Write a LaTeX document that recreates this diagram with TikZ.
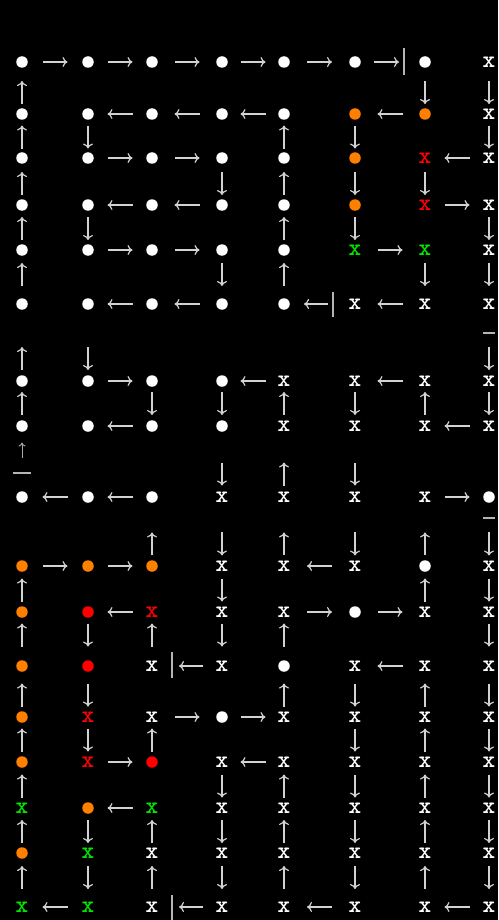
\documentclass[tikz,border=0pt]{standalone}
\usetikzlibrary{arrows.meta,calc}
\definecolor{linkgray}{HTML}{D2D2D2}
\definecolor{wallgray}{HTML}{B4B4B4}
\definecolor{dotorange}{HTML}{FF8000}
\definecolor{dotred}{HTML}{FF0000}
\definecolor{xgreen}{HTML}{00E600}
\begin{document}
\begin{tikzpicture}[x=1pt,y=-1pt,
  dotbase/.style={circle,inner sep=0pt,minimum size=11.5pt},
  kw/.style={dotbase,fill=white,node contents={}},
  ko/.style={dotbase,fill=dotorange,node contents={}},
  kr/.style={dotbase,fill=dotred,node contents={}},
  xbase/.style={inner sep=0pt,font=\ttfamily\bfseries\fontsize{24}{24}\selectfont},
  kX/.style={xbase,text=white,node contents={x}},
  kR/.style={xbase,text=dotred,node contents={x}},
  kG/.style={xbase,text=xgreen,node contents={x}},
  link/.style={draw=linkgray,line width=1.2pt,-{Computer Modern Rightarrow[length=5pt,width=10pt]}},
  smalllink/.style={draw=linkgray!80!black,line width=1pt,-{Computer Modern Rightarrow[length=4pt,width=7pt]}},
  seg/.style 2 args={to path={($(\tikztostart)!#1!(\tikztotarget)!#2!(\tikztostart)$) -- ($(\tikztostart)!#1!(\tikztotarget)!#2!(\tikztotarget)$)}},
  wall/.style={draw=wallgray,line width=1.2pt}
]
\fill[black] (0,0) rectangle (498,920);
\useasboundingbox (0,0) rectangle (498,920);
% grid nodes
\foreach \r/\y/\types in {
 0/62/{kw,kw,kw,kw,kw,kw,kw,kX},
 1/114/{kw,kw,kw,kw,kw,ko,ko,kX},
 2/158/{kw,kw,kw,kw,kw,ko,kR,kX},
 3/205/{kw,kw,kw,kw,kw,ko,kR,kX},
 4/250/{kw,kw,kw,kw,kw,kG,kG,kX},
 5/304/{kw,kw,kw,kw,kw,kX,kX,kX},
 6/381/{kw,kw,kw,kw,kX,kX,kX,kX},
 7/426/{kw,kw,kw,kw,kX,kX,kX,kX},
 8/497/{kw,kw,kw,kX,kX,kX,kX,kw},
 9/566/{ko,ko,ko,kX,kX,kX,kw,kX},
 10/612/{ko,kr,kR,kX,kX,kw,kX,kX},
 11/666/{ko,kr,kX,kX,kw,kX,kX,kX},
 12/717/{ko,kR,kX,kw,kX,kX,kX,kX},
 13/762/{ko,kR,kr,kX,kX,kX,kX,kX},
 14/808/{kG,ko,kG,kX,kX,kX,kX,kX},
 15/853/{ko,kG,kX,kX,kX,kX,kX,kX},
 16/907/{kG,kG,kX,kX,kX,kX,kX,kX}}{
  \foreach \k [count=\c from 0] in \types {
    \pgfmathsetmacro\cx{{22,88,152,222,284,355,425,489}[\c]}
    \node (n-\r-\c) at (\cx,\y) [\k];
  }
}
% horizontal arrows (left column / direction)
\foreach \r/\items in {
 0/{0/r,1/r,2/r,3/r,4/r},
 1/{1/l,2/l,3/l,5/l},
 2/{1/r,2/r,6/l},
 3/{1/l,2/l,6/r},
 4/{1/r,2/r,5/r},
 5/{1/l,2/l,5/l},
 6/{1/r,3/l,5/l},
 7/{1/l,6/l},
 8/{0/l,1/l,6/r},
 9/{0/r,1/r,4/l},
 10/{1/l,4/r,5/r},
 11/{5/l},
 12/{2/r,3/r},
 13/{1/r,3/l},
 14/{1/l},
 16/{0/l,4/l,6/l}}{
  \foreach \a/\d in \items {
    \pgfmathtruncatemacro\b{\a+1}
    \if\d r
      \draw[link,seg={0.5}{12.5pt}] (n-\r-\a) to (n-\r-\b);
    \else
      \draw[link,seg={0.5}{12.5pt}] (n-\r-\b) to (n-\r-\a);
    \fi
  }
}
% vertical arrows (top row / position / column and direction)
\foreach \t/\f/\items in {
 0/0.587/{0/u,6/d,7/d},
 1/0.523/{0/u,1/d,4/u,5/d,7/d},
 2/0.543/{0/u,3/d,4/u,5/d,6/d},
 3/0.522/{0/u,1/d,4/u,5/d,7/d},
 4/0.454/{0/u,3/d,4/u,6/d,7/d},
 5/0.708/{0/u,1/d,7/d},
 6/0.5/{0/u,2/d,3/d,4/u,5/d,6/u,7/d},
 7/0.676/{3/d,4/u,5/d},
 8/0.681/{2/u,3/d,4/u,5/d,6/u,7/d},
 9/0.522/{0/u,3/d,6/u,7/d},
 10/0.426/{0/u,1/d,2/u,3/d,4/u,7/d},
 11/0.569/{0/u,1/d,4/u,5/d,6/u,7/d},
 12/0.511/{0/u,1/d,2/u,5/d,6/u,7/d},
 13/0.522/{0/u,3/d,4/u,5/d,6/u,7/d},
 14/0.522/{0/u,1/d,2/u,3/d,4/u,5/d,6/u,7/d},
 15/0.454/{0/u,1/d,2/u,3/d,4/u,5/d,6/u,7/d}}{
  \pgfmathtruncatemacro\b{\t+1}
  \pgfmathsetmacro\g{1-\f}
  \foreach \c/\d in \items {
    \if\d u
      \draw[link,seg={\g}{11.5pt}] (n-\b-\c) to (n-\t-\c);
    \else
      \draw[link,seg={\f}{11.5pt}] (n-\t-\c) to (n-\b-\c);
    \fi
  }
}
% small arrow between rows 7 and 8, first column
\draw[smalllink,seg={0.662}{7.5pt}] (n-8-0) to (n-7-0);
% arrows stopped by walls
\draw[link,seg={0.45}{12.5pt}] (n-0-5) to (n-0-6);
\draw[link,seg={0.549}{12pt}] (n-5-5) to (n-5-4);
\draw[link,seg={0.443}{12pt}] (n-11-3) to (n-11-2);
\draw[link,seg={0.443}{12pt}] (n-16-3) to (n-16-2);
% walls
\draw[wall] (404,48) -- (404,75);
\draw[wall] (333,292) -- (333,317);
\draw[wall] (172,652) -- (172,678);
\draw[wall] (172,895) -- (172,920);
\draw[wall] (483,333) -- (495,333);
\draw[wall] (13,473) -- (31,473);
\draw[wall] (483,518) -- (495,518);
\end{tikzpicture}
\end{document}
